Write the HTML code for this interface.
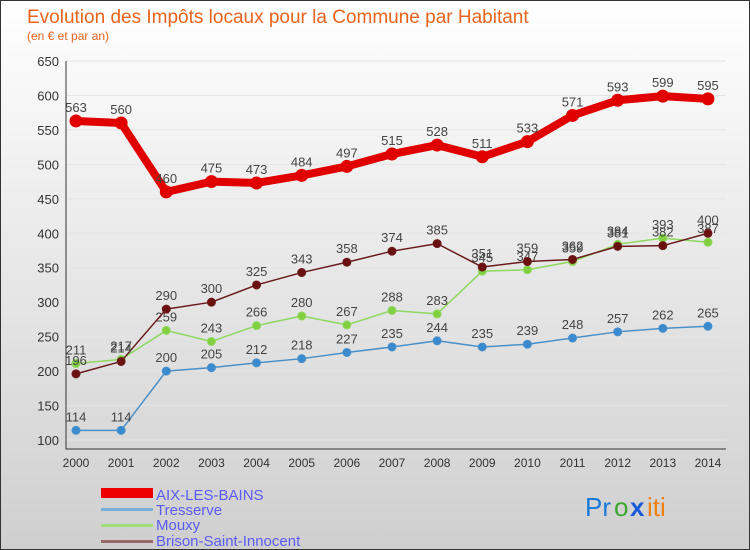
<!DOCTYPE html>
<html><head><meta charset="utf-8"><style>
body{margin:0}
#c{width:750px;height:550px;position:relative;overflow:hidden;font-family:"Liberation Sans",sans-serif;background:linear-gradient(#ffffff,#cfcfcf);border:1px solid #333;box-sizing:border-box}
</style></head><body>
<div id="c">
<svg id="s" width="750" height="550" style="position:absolute;left:0;top:0">
<text x="26" y="22" font-size="19" fill="#e8641e">Evolution des Impôts locaux pour la Commune par Habitant</text>
<text x="26" y="39" font-size="12" fill="#e8641e">(en € et par an)</text>
<g id="plot"></g>
<g>
<rect x="100" y="487" width="52" height="10" fill="#e00"/>
<text x="155" y="499" font-size="15" fill="#5b5bf5">AIX-LES-BAINS</text>
<rect x="100" y="507" width="52" height="3" fill="#7ab0d8"/>
<text x="155" y="514" font-size="15" fill="#5b5bf5">Tresserve</text>
<rect x="100" y="523" width="52" height="3" fill="#9ede7a"/>
<text x="155" y="529" font-size="15" fill="#5b5bf5">Mouxy</text>
<rect x="100" y="539" width="52" height="3" fill="#9a6a6a"/>
<text x="155" y="545" font-size="15" fill="#5b5bf5">Brison-Saint-Innocent</text>
</g>
<g font-size="26">
<text x="584" y="515" fill="#1a7ad8">Pr</text><text x="613" y="515" fill="#3aa830">o</text><text x="629" y="515" fill="#1a5ad8" font-weight="bold">x</text><text x="646" y="515" fill="#f08010">iti</text>
</g>
</svg>
</div>
<script>
const years=[2000,2001,2002,2003,2004,2005,2006,2007,2008,2009,2010,2011,2012,2013,2014];
const aix=[563,560,460,475,473,484,497,515,528,511,533,571,593,599,595];
const tresserve=[114,114,200,205,212,218,227,235,244,235,239,248,257,262,265];
const mouxy=[211,217,259,243,266,280,267,288,283,345,347,359,384,393,387];
const brison=[196,214,290,300,325,343,358,374,385,351,359,362,381,382,400];
const yTicks=[100,150,200,250,300,350,400,450,500,550,600,650];
const NS="http://www.w3.org/2000/svg";
const g=document.getElementById('plot');
const X=i=>75+i*45.14;
const Y=v=>439-(v-100)*379/550;
function mk(t,a){const e=document.createElementNS(NS,t);for(const k in a)e.setAttribute(k,a[k]);g.appendChild(e);return e;}
yTicks.forEach(v=>{
 const l=mk('line',{x1:65,x2:725,y1:Y(v),y2:Y(v),stroke:'#e4e4e4','stroke-width':1});
 
 
 const t=mk('text',{x:58,y:Y(v)+5,'font-size':13,fill:'#333','text-anchor':'end'});t.textContent=v;
 
 
});
const ax=mk('path',{d:'M65 60 V448 H725',stroke:'#333',fill:'none'});


years.forEach((y,i)=>{
 const t=mk('text',{x:X(i),y:466,'font-size':12,fill:'#333','text-anchor':'middle'});t.textContent=y;
 
 
});
function series(d,col,w,r,name,dot){
 const p=mk('polyline',{points:d.map((v,i)=>X(i)+','+Y(v)).join(' '),fill:'none',stroke:col,'stroke-width':w,'stroke-linejoin':'round'});
 
 
 d.forEach((v,i)=>{
  const c=mk('circle',{cx:X(i),cy:Y(v),r:r,fill:dot,stroke:col,'stroke-width':1});
  
  
  const t=mk('text',{x:X(i),y:Y(v)-9,'font-size':13,fill:'#444','text-anchor':'middle'});t.textContent=v;
  
  
 });
}
series(tresserve,'#4a90c8',1.5,4,'tresserve','#3a8ad0');
series(mouxy,'#8ed860',1.5,4,'mouxy','#80d040');
series(brison,'#6a1a1a',1.5,4,'brison','#6a1010');
series(aix,'#e00000',8,6,'aix','#e00000');
</script>
</body></html>
